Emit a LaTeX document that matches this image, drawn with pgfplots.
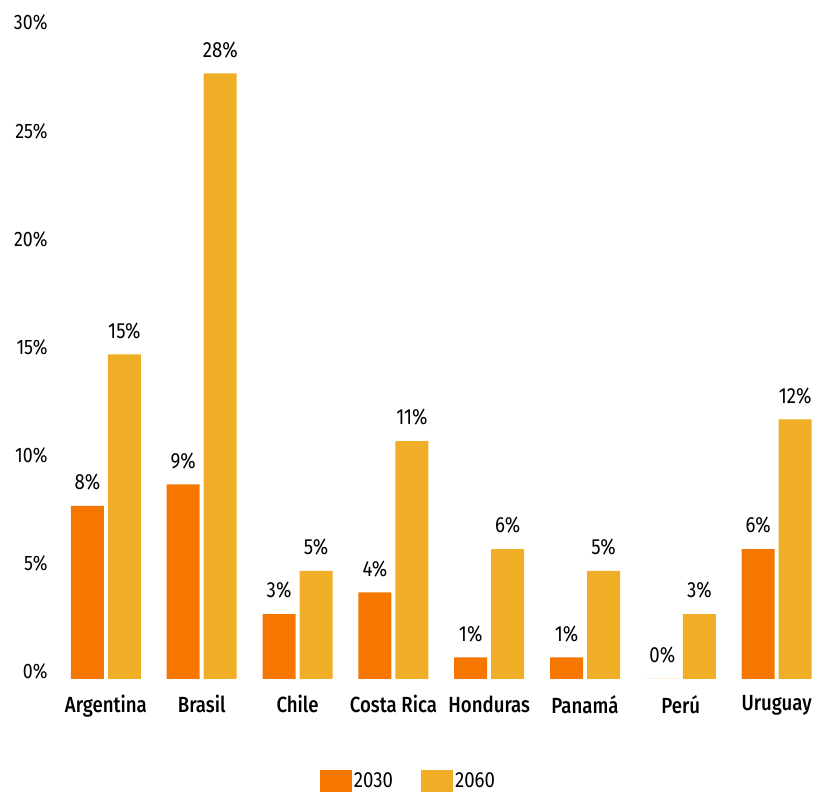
\documentclass[border=0pt]{standalone}
\usepackage{pgfplots}
\pgfplotsset{compat=1.18}
\usepackage{fontspec}
\setmainfont{Fira Sans}[FakeStretch=0.85, BoldFont={Fira Sans Medium}]
\definecolor{c2030}{HTML}{F57700}
\definecolor{c2060}{HTML}{EFAE25}
\begin{document}
\begin{tikzpicture}[x=1bp,y=1bp]
\useasboundingbox (0,0) rectangle (816,793);
\begin{axis}[
  at={(58bp,114bp)}, anchor=south west,
  scale only axis, width=757bp, height=649bp,
  xmin=-0.5, xmax=7.4, ymin=0, ymax=30,
  /pgf/number format/assume math mode=true,
  axis line style={draw=none},
  major tick length=0pt,
  ytick={0,5,...,30},
  yticklabel={\pgfmathprintnumber{\tick}\%},
  yticklabel style={font=\fontsize{21}{25}\selectfont, anchor=base east, xshift=-7bp},
  xtick={0,...,7},
  xticklabels={Argentina,Brasil,Chile,Costa Rica,Honduras,Panamá,Perú,Uruguay},
  xticklabel style={font=\fontsize{22}{26}\selectfont\bfseries, yshift=-13bp},
  ybar, bar width=33bp,
  nodes near coords={\pgfmathprintnumber{\pgfplotspointmeta}\%},
  every node near coord/.append style={font=\fontsize{22}{26}\selectfont, anchor=south, yshift=12bp},
  legend style={draw=none, at={(0.4630,-0.157)}, anchor=center,
    legend columns=2, font=\fontsize{22}{26}\selectfont,
    /tikz/every even column/.append style={column sep=26bp}},
  legend image code/.code={\fill[#1] (0bp,-11bp) rectangle (32bp,11bp);},
]
\addplot[fill=c2030, draw=none, bar shift=-18.5bp] coordinates {(0,8) (1,9) (2,3) (3,4) (4,1) (5,1) (6,0) (7,6)};
\addplot[fill=c2060, draw=none, bar shift=18.5bp] coordinates {(0,15) (1,28) (2,5) (3,11) (4,6) (5,5) (6,3) (7,12)};
\legend{2030,2060}
\end{axis}
\end{tikzpicture}
\end{document}
